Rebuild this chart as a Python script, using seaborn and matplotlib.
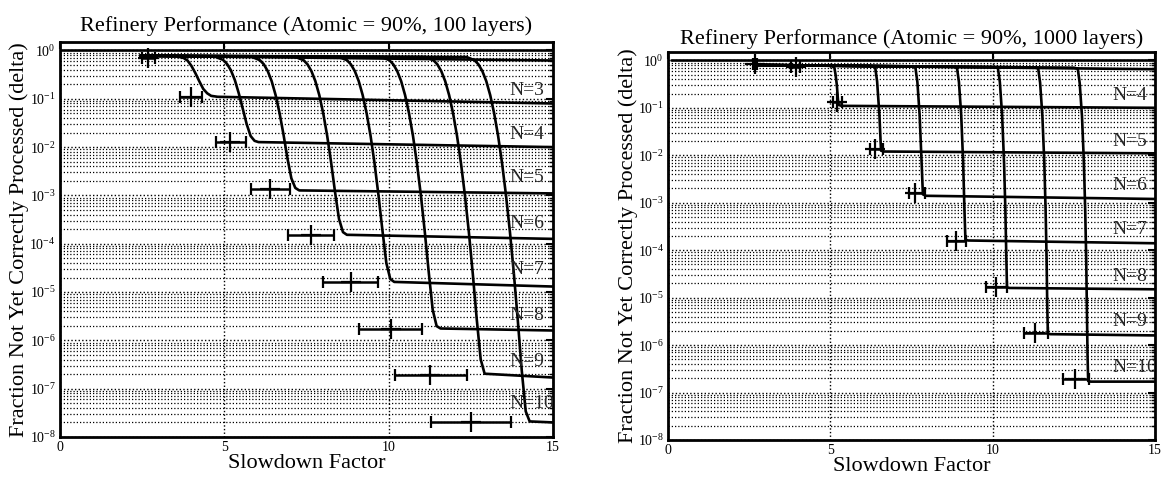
import matplotlib
matplotlib.use("Agg")
import matplotlib.pyplot as plt
import numpy as np
import pandas as pd
import seaborn as sns
from matplotlib.ticker import NullFormatter, FixedLocator, LogFormatterMathtext

# ---------------- data ----------------
titles = ["Refinery Performance (Atomic = 90%, 100 layers)",
          "Refinery Performance (Atomic = 90%, 1000 layers)"]
xlabel = "Slowdown Factor"
ylabel = "Fraction Not Yet Correctly Processed (delta)"
x_ticks = [0, 5, 10, 15]
y_decades = [-8, -7, -6, -5, -4, -3, -2, -1, 0]

# --- left panel (100 layers) ---
L_ceiling_x = [0, 15];  L_ceiling_y = [1.0, 1.0]
L2_x = [2.45, 15];      L2_y = [0.78, 0.62]
L3_x = [2.45, 3.52, 3.76, 3.88, 4.0, 4.12, 4.24, 4.36, 4.48, 4.6, 4.8, 15]
L3_y = [0.78, 0.77, 0.70, 0.62, 0.48, 0.34, 0.23, 0.16, 0.13, 0.115, 0.11, 0.08]
L4_x = [2.45, 4.72, 4.96, 5.08, 5.2, 5.32, 5.44, 5.56, 5.68, 5.8, 5.92, 6.04, 15]
L4_y = [0.78, 0.745, 0.64, 0.53, 0.39, 0.245, 0.13, 0.063, 0.030, 0.017, 0.0135, 0.0127, 0.010]
L5_x = [2.45, 5.84, 6.08, 6.2, 6.32, 6.44, 6.56, 6.68, 6.8, 6.92, 7.04, 7.16, 7.28, 15]
L5_y = [0.78, 0.735, 0.632, 0.52, 0.376, 0.233, 0.12, 0.051, 0.0184, 0.0059, 0.00226, 0.00143, 0.00127, 0.0011]
L6_x = [2.45, 7.17, 7.41, 7.53, 7.65, 7.77, 7.89, 8.01, 8.13, 8.25, 8.37, 8.49, 8.61, 8.73, 15]
L6_y = [0.78, 0.733, 0.631, 0.518, 0.375, 0.232, 0.119, 0.050, 0.0171, 0.00481, 0.00116, 3.25e-4, 1.74e-4, 1.53e-4, 1.26e-4]
L7_x = [2.45, 8.49, 8.73, 8.85, 8.97, 9.09, 9.21, 9.33, 9.45, 9.57, 9.69, 9.81, 9.93, 10.05, 10.17, 15]
L7_y = [0.78, 0.733, 0.631, 0.518, 0.375, 0.232, 0.119, 0.050, 0.0171, 0.00466, 1.01e-3, 1.91e-4, 3.98e-5, 1.86e-5, 1.62e-5, 1.3e-5]
L8_x = [2.45, 9.78, 10.02, 10.14, 10.26, 10.38, 10.5, 10.62, 10.74, 10.86, 10.98, 11.1, 11.22, 11.34, 11.46, 11.58, 15]
L8_y = [0.78, 0.733, 0.631, 0.518, 0.375, 0.232, 0.119, 0.050, 0.0171, 0.00466, 1.01e-3, 1.75e-4, 2.56e-5, 4.3e-6, 1.97e-6, 1.76e-6, 1.6e-6]
L9_x = [2.45, 11.12, 11.36, 11.48, 11.6, 11.72, 11.84, 11.96, 12.08, 12.2, 12.32, 12.44, 12.56, 12.68, 12.8, 12.92, 15]
L9_y = [0.78, 0.733, 0.631, 0.518, 0.375, 0.232, 0.119, 0.050, 0.0171, 0.00466, 1.01e-3, 1.75e-4, 2.38e-5, 2.74e-6, 4.05e-7, 2.04e-7, 1.7e-7]
L10_x = [2.45, 12.37, 12.61, 12.73, 12.85, 12.97, 13.09, 13.21, 13.33, 13.45, 13.57, 13.69, 13.81, 13.93, 14.05, 14.17, 14.29, 15]
L10_y = [0.78, 0.733, 0.631, 0.518, 0.375, 0.232, 0.119, 0.050, 0.0171, 0.00466, 1.01e-3, 1.75e-4, 2.38e-5, 2.55e-6, 2.35e-7, 3.4e-8, 2.1e-8, 2.0e-8]

L_cross_x  = [2.67, 3.98, 5.17, 6.39, 7.64, 8.86, 10.06, 11.27, 12.5]
L_cross_y  = [0.69, 0.11, 0.0126, 1.34e-3, 1.5e-4, 1.6e-5, 1.7e-6, 1.9e-7, 2.0e-8]
L_cross_lo = [2.5, 3.64, 4.75, 5.82, 6.93, 8.01, 9.11, 10.19, 11.3]
L_cross_hi = [2.9, 4.32, 5.65, 6.99, 8.33, 9.68, 11.02, 12.39, 13.73]

L_labels  = ["N=3", "N=4", "N=5", "N=6", "N=7", "N=8", "N=9", "N=10"]
L_label_y = [0.15, 0.0186, 2.3e-3, 2.6e-4, 2.9e-5, 3.3e-6, 3.7e-7, 5.0e-8]

# --- right panel (1000 layers) ---
R_ceiling_x = [0.1, 15]; R_ceiling_y = [1.0, 1.0]
R3_x = [2.7, 15];        R3_y = [0.80, 0.65]
R4_x = [2.7, 5.0, 5.12, 5.16, 5.2, 5.23, 5.25, 5.35, 15]
R4_y = [0.80, 0.77, 0.72, 0.5, 0.3, 0.16, 0.115, 0.11, 0.10]
R5_x = [2.7, 6.26, 6.38, 6.44, 6.51, 6.56, 6.65, 15]
R5_y = [0.80, 0.76, 0.72, 0.36, 0.072, 0.0125, 0.012, 0.011]
R6_x = [2.7, 7.5, 7.62, 7.68, 7.75, 7.81, 7.85, 7.95, 15]
R6_y = [0.80, 0.74, 0.70, 0.35, 0.07, 0.007, 0.0015, 0.0014, 0.0012]
R7_x = [2.7, 8.78, 8.9, 8.96, 9.03, 9.09, 9.13, 9.16, 9.25, 15]
R7_y = [0.80, 0.73, 0.70, 0.35, 0.07, 0.007, 7e-4, 1.65e-4, 1.6e-4, 1.4e-4]
R8_x = [2.7, 10.04, 10.16, 10.22, 10.29, 10.35, 10.39, 10.42, 10.44, 10.52, 15]
R8_y = [0.80, 0.72, 0.69, 0.35, 0.07, 0.007, 7e-4, 7e-5, 1.65e-5, 1.6e-5, 1.5e-5]
R9_x = [2.7, 11.28, 11.4, 11.46, 11.53, 11.59, 11.63, 11.66, 11.68, 11.7, 11.78, 15]
R9_y = [0.80, 0.71, 0.68, 0.34, 0.068, 0.0068, 6.8e-4, 6.8e-5, 6.8e-6, 1.75e-6, 1.7e-6, 1.6e-6]
R10_x = [2.7, 12.5, 12.62, 12.68, 12.75, 12.81, 12.85, 12.88, 12.9, 12.92, 12.94, 13.02, 15]
R10_y = [0.80, 0.70, 0.67, 0.33, 0.067, 0.0067, 6.7e-4, 6.7e-5, 6.7e-6, 6.7e-7, 1.75e-7, 1.7e-7, 1.7e-7]

R_cross_x  = [2.68, 3.93, 5.21, 6.39, 7.62, 8.86, 10.09, 11.31, 12.54]
R_cross_y  = [0.85, 0.72, 0.13, 0.0134, 1.6e-3, 1.6e-4, 1.7e-5, 1.8e-6, 1.9e-7]
R_cross_lo = [2.62, 3.8, 5.07, 6.22, 7.42, 8.6, 9.8, 10.95, 12.18]
R_cross_hi = [2.74, 4.05, 5.36, 6.62, 7.93, 9.18, 10.44, 11.69, 12.98]

R_labels  = ["N=4", "N=5", "N=6", "N=7", "N=8", "N=9", "N=10"]
R_label_y = [0.178, 0.0195, 2.3e-3, 2.75e-4, 2.8e-5, 3.1e-6, 3.4e-7]

# ---------------- build tables ----------------
def make_df(curves):
    rows = []
    for name, xs, ys in curves:
        for i, (x, y) in enumerate(zip(xs, ys)):
            rows.append({"curve": name, "order": i, "x": x, "y": y})
    return pd.DataFrame(rows)

left_df = make_df([("ceil", L_ceiling_x, L_ceiling_y), ("N2", L2_x, L2_y),
                   ("N3", L3_x, L3_y), ("N4", L4_x, L4_y), ("N5", L5_x, L5_y),
                   ("N6", L6_x, L6_y), ("N7", L7_x, L7_y), ("N8", L8_x, L8_y),
                   ("N9", L9_x, L9_y), ("N10", L10_x, L10_y)])
right_df = make_df([("ceil", R_ceiling_x, R_ceiling_y), ("N3", R3_x, R3_y),
                    ("N4", R4_x, R4_y), ("N5", R5_x, R5_y), ("N6", R6_x, R6_y),
                    ("N7", R7_x, R7_y), ("N8", R8_x, R8_y), ("N9", R9_x, R9_y),
                    ("N10", R10_x, R10_y)])

major_y = [10.0 ** d for d in y_decades]
minor_y = [m * 10.0 ** d for d in y_decades[:-1] for m in range(2, 10)]

# ---------------- style ----------------
sns.set_theme(style="white")
plt.rcParams['font.family'] = ['Liberation Serif', 'DejaVu Serif']
plt.rcParams['mathtext.fontset'] = 'stix'

fig = plt.figure(figsize=(11.62, 4.82), dpi=100)
ax_l = fig.add_axes([0.0516, 0.0934, 0.4243, 0.8195])
ax_r = fig.add_axes([0.5749, 0.0871, 0.4191, 0.8050])


def draw(ax, df, cx, cy, lo, hi, labels, label_y, title, title_pad):
    ax.set_yscale('log')
    sns.lineplot(data=df, x="x", y="y", units="curve", estimator=None, sort=False,
                 color="black", linewidth=1.9, ax=ax, legend=False)
    cx = np.array(cx); lo = np.array(lo); hi = np.array(hi)
    ax.errorbar(cx, cy, xerr=[cx - lo, hi - cx], fmt='+', color='black',
                ms=14, mew=1.6, elinewidth=1.8, capsize=4, capthick=1.6, zorder=5)
    for lab, ly in zip(labels, label_y):
        ax.text(13.68, ly, lab, fontsize=14, ha='left', va='center', clip_on=True)
    ax.set_xlim(0, 15)
    ax.set_ylim(1e-8, 1.5)
    ax.xaxis.set_major_locator(FixedLocator(x_ticks))
    ax.yaxis.set_major_locator(FixedLocator(major_y))
    ax.yaxis.set_major_formatter(LogFormatterMathtext())
    ax.yaxis.set_minor_locator(FixedLocator(minor_y))
    ax.yaxis.set_minor_formatter(NullFormatter())
    ax.grid(True, which='major', axis='both', color='black', linestyle=(0, (1, 1.6)), linewidth=1.0)
    ax.grid(True, which='minor', axis='y', color='black', linestyle=(0, (1, 1.6)), linewidth=0.9)
    ax.tick_params(which='both', direction='in', top=True, right=True, labelsize=10,
                   color='black', labelcolor='black', pad=3)
    ax.tick_params(which='major', length=5, width=1.5)
    ax.tick_params(which='minor', length=3, width=1.0)
    for sp in ax.spines.values():
        sp.set_color('black'); sp.set_linewidth(2.0); sp.set_visible(True)
    ax.set_title(title, fontsize=16, pad=title_pad, color='black')
    ax.set_xlabel(xlabel, fontsize=16, labelpad=0, color='black')
    ax.set_ylabel(ylabel, fontsize=16, labelpad=0, color='black')


draw(ax_l, left_df, L_cross_x, L_cross_y, L_cross_lo, L_cross_hi, L_labels, L_label_y, titles[0], 8)
draw(ax_r, right_df, R_cross_x, R_cross_y, R_cross_lo, R_cross_hi, R_labels, R_label_y, titles[1], 6)

fig.savefig("out.png", dpi=100, facecolor="white")
